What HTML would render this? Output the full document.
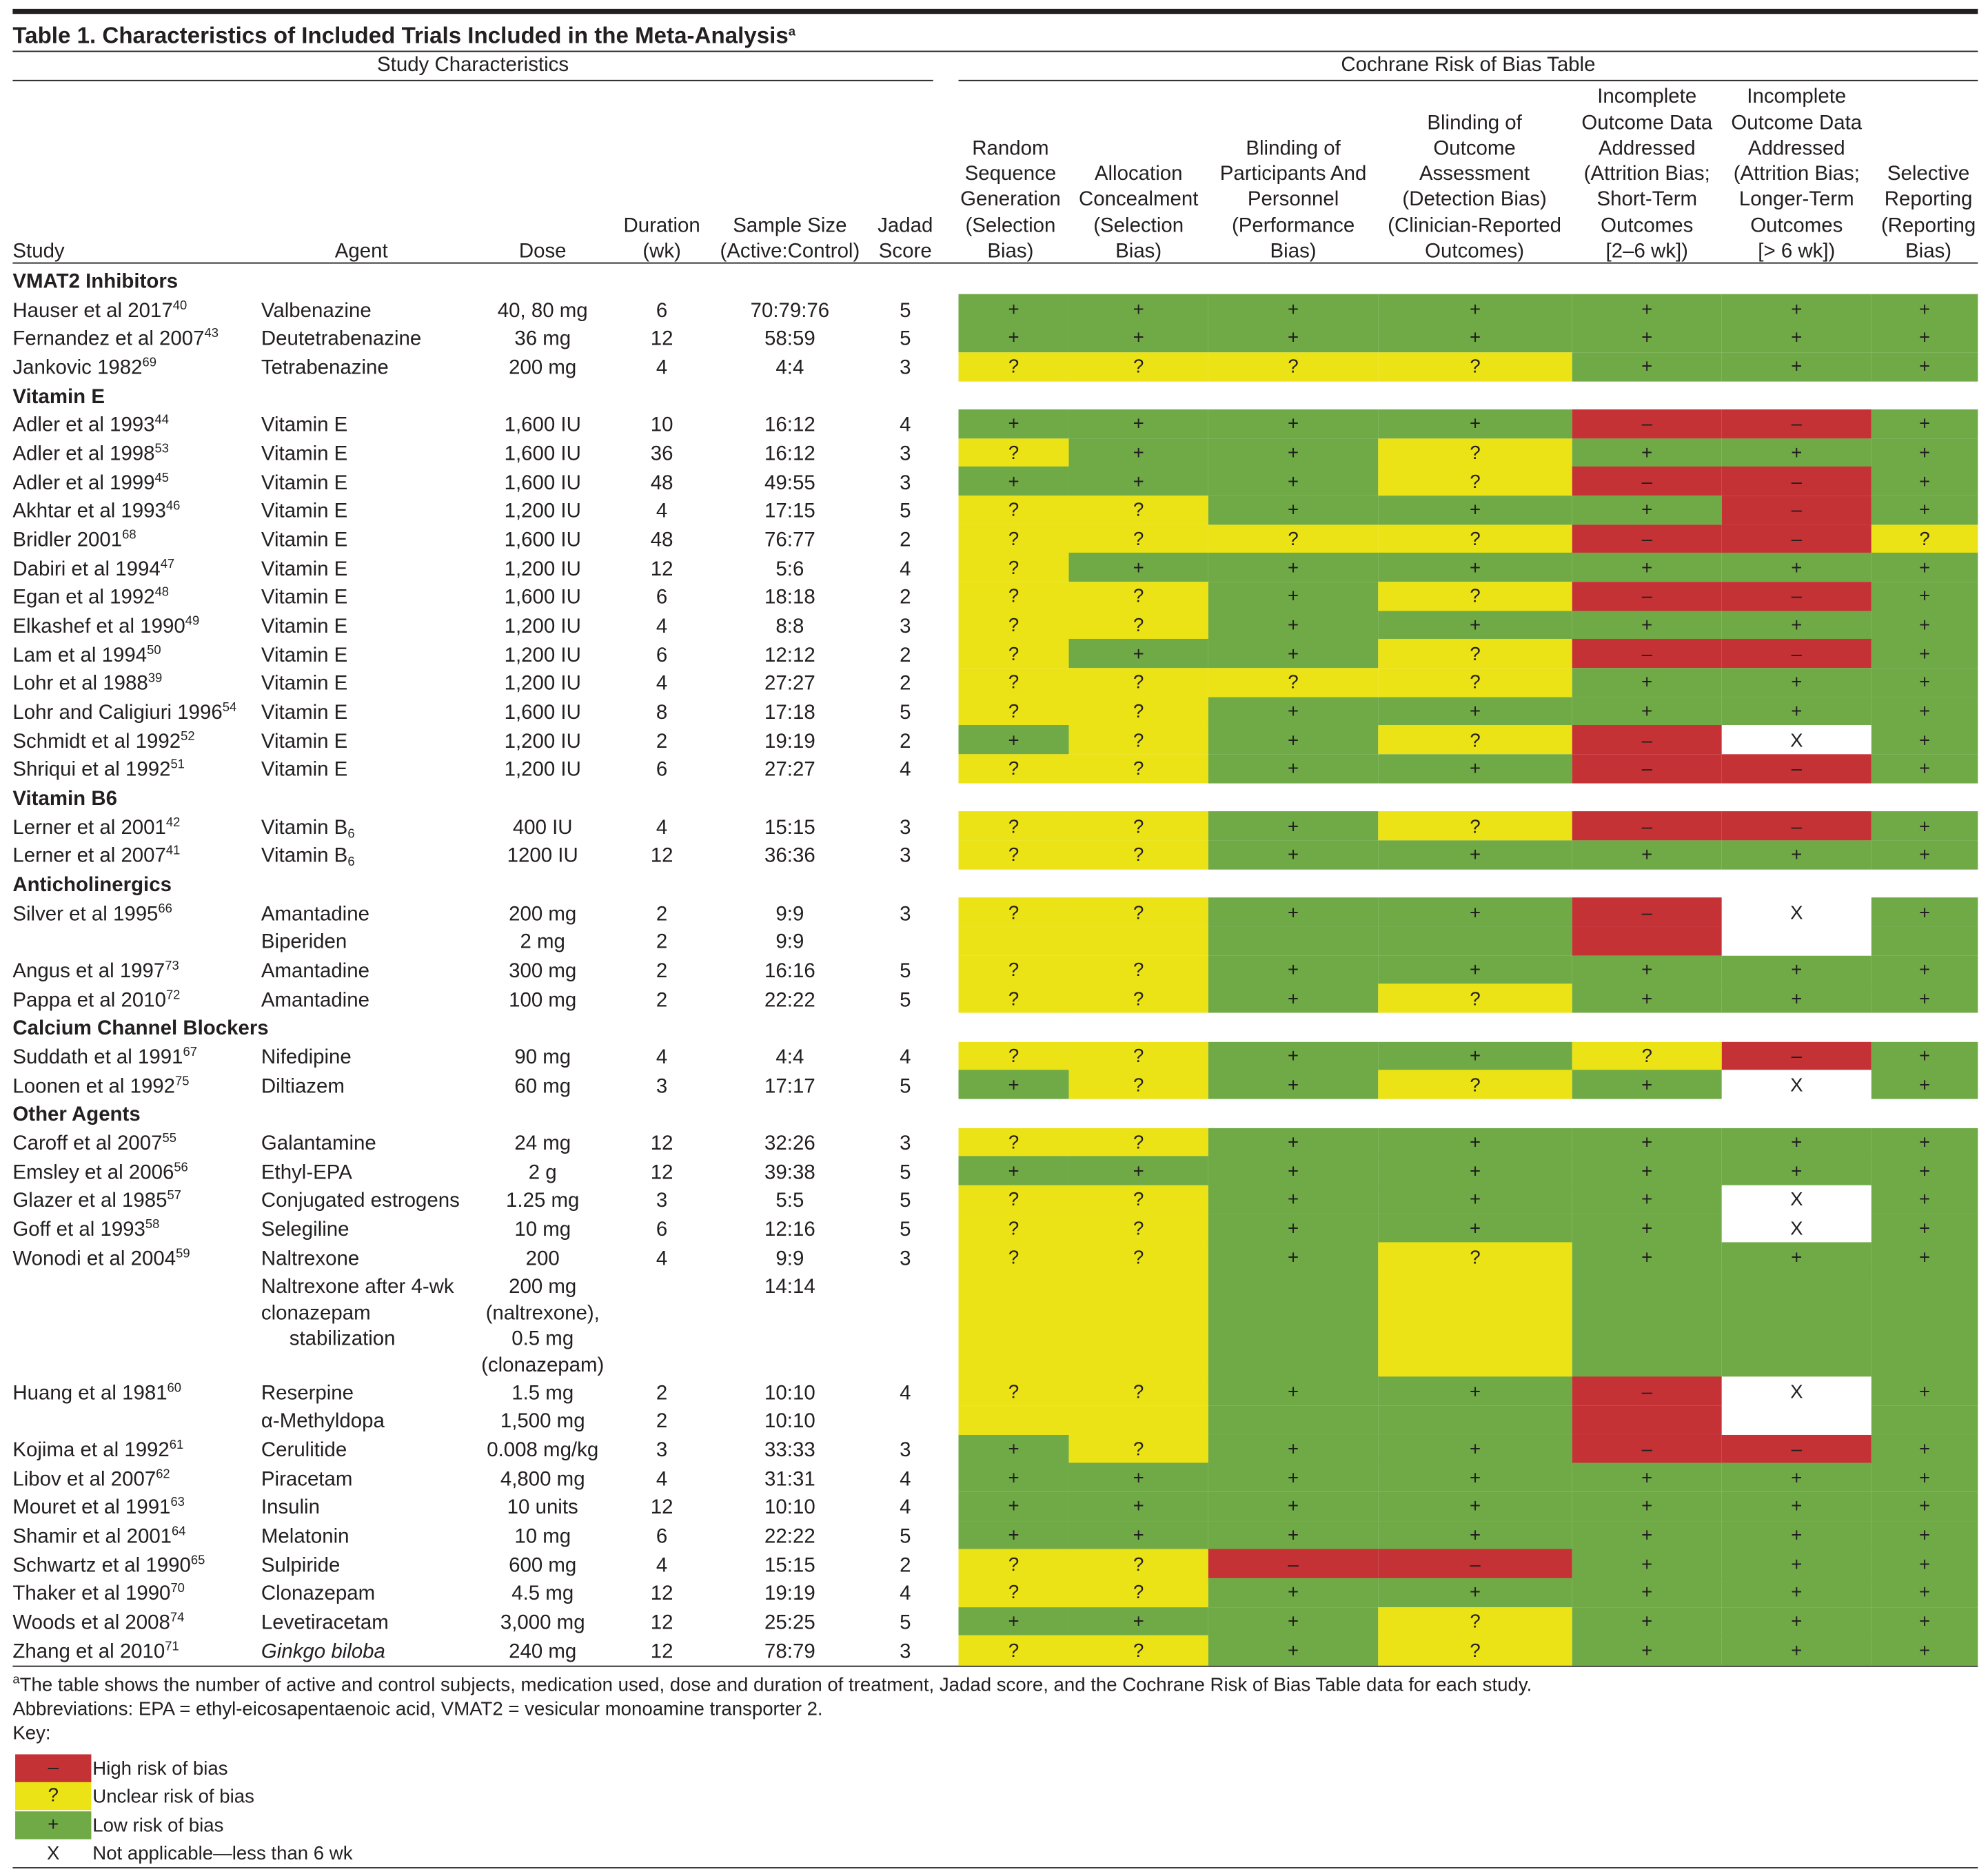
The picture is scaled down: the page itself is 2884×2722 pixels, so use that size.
<!DOCTYPE html>
<html><head><meta charset="utf-8">
<style>
html,body{margin:0;padding:0;background:#fff;}
body{width:2884px;height:2722px;overflow:hidden;}
#root{position:absolute;left:0;top:0;width:1568px;height:1480px;transform-origin:0 0;transform:scale(1.8393,1.8392);font-family:"Liberation Sans",Arial,sans-serif;font-size:16px;color:#231f20;}
.t{position:absolute;white-space:nowrap;line-height:20px;height:20px;}
.c{text-align:center;width:240px;}
.rule{position:absolute;background:#231f20;height:1px;}
.cell{position:absolute;}
.sym{position:absolute;text-align:center;line-height:20px;font-size:15px;}
sup{font-size:10px;vertical-align:6px;line-height:0;}
sub{font-size:10px;vertical-align:-3px;line-height:0;}
.b{font-weight:bold;}
</style></head>
<body>
<div id="root">
<div class="rule" style="left:10px;top:7px;width:1550px;height:3.5px"></div>
<div class="t b" style="left:10px;top:18px;font-size:18px">Table 1. Characteristics of Included Trials Included in the Meta-Analysis<sup>a</sup></div>
<div class="rule" style="left:10px;top:40px;width:1550px"></div>
<div class="t c" style="left:253px;top:42px;">Study Characteristics</div>
<div class="t c" style="left:1038px;top:42px;">Cochrane Risk of Bias Table</div>
<div class="rule" style="left:10px;top:63px;width:726px"></div>
<div class="rule" style="left:756px;top:63px;width:804px"></div>
<div class="rule" style="left:10px;top:207px;width:1550px"></div>
<div class="rule" style="left:10px;top:1314px;width:1550px"></div>
<div class="rule" style="left:10px;top:1473px;width:1550px"></div>
<div class="t" style="left:10px;top:1320px;font-size:15px"><sup>a</sup>The table shows the number of active and control subjects, medication used, dose and duration of treatment, Jadad score, and the Cochrane Risk of Bias Table data for each study.</div>
<div class="t" style="left:10px;top:1339px;font-size:15px">Abbreviations: EPA = ethyl-eicosapentaenoic acid, VMAT2 = vesicular monoamine transporter 2.</div>
<div class="t" style="left:10px;top:1358px;font-size:15px">Key:</div>
<div class="cell" style="left:12px;top:1384px;width:60px;height:22px;background:#c43236"><div class="sym" style="left:0;width:60px;top:1px">–</div></div>
<div class="t" style="left:73px;top:1386px;font-size:15px">High risk of bias</div>
<div class="cell" style="left:12px;top:1406px;width:60px;height:22px;background:#ebe316"><div class="sym" style="left:0;width:60px;top:1px">?</div></div>
<div class="t" style="left:73px;top:1408px;font-size:15px">Unclear risk of bias</div>
<div class="cell" style="left:12px;top:1429px;width:60px;height:22px;background:#70aa47"><div class="sym" style="left:0;width:60px;top:1px">+</div></div>
<div class="t" style="left:73px;top:1431px;font-size:15px">Low risk of bias</div>
<div class="sym" style="left:12px;top:1453px;width:60px">X</div>
<div class="t" style="left:73px;top:1453px;font-size:15px">Not applicable—less than 6 wk</div>
</div>
<script>
const root = document.getElementById('root');
const colX = [756,843,953,1087,1240,1358,1476,1560];
const headers = [
 [10,'l',['Study']],[285,'c',['Agent']],[428,'c',['Dose']],[522,'c',['Duration','(wk)']],
 [623,'c',['Sample Size','(Active:Control)']],[714,'c',['Jadad','Score']],
 [797,'c',['Random','Sequence','Generation','(Selection','Bias)']],
 [898,'c',['Allocation','Concealment','(Selection','Bias)']],
 [1020,'c',['Blinding of','Participants And','Personnel','(Performance','Bias)']],
 [1163,'c',['Blinding of','Outcome','Assessment','(Detection Bias)','(Clinician-Reported','Outcomes)']],
 [1299,'c',['Incomplete','Outcome Data','Addressed','(Attrition Bias;','Short-Term','Outcomes','[2–6 wk])']],
 [1417,'c',['Incomplete','Outcome Data','Addressed','(Attrition Bias;','Longer-Term','Outcomes','[> 6 wk])']],
 [1521,'c',['Selective','Reporting','(Reporting','Bias)']]
];
const rows = [
 ['h','VMAT2 Inhibitors'],
 ['Hauser et al 2017','40','Valbenazine','40, 80 mg','6','70:79:76','5','GGGGGGG'],
 ['Fernandez et al 2007','43','Deutetrabenazine','36 mg','12','58:59','5','GGGGGGG'],
 ['Jankovic 1982','69','Tetrabenazine','200 mg','4','4:4','3','YYYYGGG'],
 ['h','Vitamin E'],
 ['Adler et al 1993','44','Vitamin E','1,600 IU','10','16:12','4','GGGGRRG'],
 ['Adler et al 1998','53','Vitamin E','1,600 IU','36','16:12','3','YGGYGGG'],
 ['Adler et al 1999','45','Vitamin E','1,600 IU','48','49:55','3','GGGYRRG'],
 ['Akhtar et al 1993','46','Vitamin E','1,200 IU','4','17:15','5','YYGGGRG'],
 ['Bridler 2001','68','Vitamin E','1,600 IU','48','76:77','2','YYYYRRY'],
 ['Dabiri et al 1994','47','Vitamin E','1,200 IU','12','5:6','4','YGGGGGG'],
 ['Egan et al 1992','48','Vitamin E','1,600 IU','6','18:18','2','YYGYRRG'],
 ['Elkashef et al 1990','49','Vitamin E','1,200 IU','4','8:8','3','YYGGGGG'],
 ['Lam et al 1994','50','Vitamin E','1,200 IU','6','12:12','2','YGGYRRG'],
 ['Lohr et al 1988','39','Vitamin E','1,200 IU','4','27:27','2','YYYYGGG'],
 ['Lohr and Caligiuri 1996','54','Vitamin E','1,600 IU','8','17:18','5','YYGGGGG'],
 ['Schmidt et al 1992','52','Vitamin E','1,200 IU','2','19:19','2','GYGYRXG'],
 ['Shriqui et al 1992','51','Vitamin E','1,200 IU','6','27:27','4','YYGGRRG'],
 ['h','Vitamin B6'],
 ['Lerner et al 2001','42','Vitamin B<sub>6</sub>','400 IU','4','15:15','3','YYGYRRG'],
 ['Lerner et al 2007','41','Vitamin B<sub>6</sub>','1200 IU','12','36:36','3','YYGGGGG'],
 ['h','Anticholinergics'],
 ['Silver et al 1995','66','Amantadine','200 mg','2','9:9','3','YYGGRXG'],
 ['','','Biperiden','2 mg','2','9:9','','yyggrwg'],
 ['Angus et al 1997','73','Amantadine','300 mg','2','16:16','5','YYGGGGG'],
 ['Pappa et al 2010','72','Amantadine','100 mg','2','22:22','5','YYGYGGG'],
 ['h','Calcium Channel Blockers'],
 ['Suddath et al 1991','67','Nifedipine','90 mg','4','4:4','4','YYGGYRG'],
 ['Loonen et al 1992','75','Diltiazem','60 mg','3','17:17','5','GYGYGXG'],
 ['h','Other Agents'],
 ['Caroff et al 2007','55','Galantamine','24 mg','12','32:26','3','YYGGGGG'],
 ['Emsley et al 2006','56','Ethyl-EPA','2 g','12','39:38','5','GGGGGGG'],
 ['Glazer et al 1985','57','Conjugated estrogens','1.25 mg','3','5:5','5','YYGGGXG'],
 ['Goff et al 1993','58','Selegiline','10 mg','6','12:16','5','YYGGGXG'],
 ['Wonodi et al 2004','59','Naltrexone','200','4','9:9','3','YYGYGGG'],
 ['m','','Naltrexone after 4-wk','200 mg','','14:14','','yygyggg'],
 ['Huang et al 1981','60','Reserpine','1.5 mg','2','10:10','4','YYGGRXG'],
 ['','','α-Methyldopa','1,500 mg','2','10:10','','yyggrwg'],
 ['Kojima et al 1992','61','Cerulitide','0.008 mg/kg','3','33:33','3','GYGGRRG'],
 ['Libov et al 2007','62','Piracetam','4,800 mg','4','31:31','4','GGGGGGG'],
 ['Mouret et al 1991','63','Insulin','10 units','12','10:10','4','GGGGGGG'],
 ['Shamir et al 2001','64','Melatonin','10 mg','6','22:22','5','GGGGGGG'],
 ['Schwartz et al 1990','65','Sulpiride','600 mg','4','15:15','2','YYRRGGG'],
 ['Thaker et al 1990','70','Clonazepam','4.5 mg','12','19:19','4','YYGGGGG'],
 ['Woods et al 2008','74','Levetiracetam','3,000 mg','12','25:25','5','GGGYGGG'],
 ['Zhang et al 2010','71','<i>Ginkgo biloba</i>','240 mg','12','78:79','3','YYGYGGG']
];
const colors = {g:'#70aa47',y:'#ebe316',r:'#c43236',x:'#ffffff',w:'#ffffff'};
const syms = {G:'+',Y:'?',R:'–',X:'X'};
function txt(x, yc, html, align, name){
  const d = document.createElement('div');
  d.className = 't' + (align==='c' ? ' c' : '');
  d.style.left = (align==='c' ? x-120 : x) + 'px';
  d.style.top = (yc-8) + 'px';
  d.innerHTML = html;
  
  
  root.appendChild(d);
  return d;
}
headers.forEach(function(h, i){
  const n = h[2].length;
  h[2].forEach(function(line, k){
    txt(h[0], 197 - (n-1-k)*20.3, line, h[1], 'column-header-' + i + '-line-' + k);
  });
});
let y = 209.67;
const LH = 22.67;
rows.forEach(function(r, i){
  let h = LH;
  const yc = y + LH/2;
  if (r[0]==='h'){
    const d = txt(10, yc, r[1], 'l', 'group-heading');
    d.classList.add('b');
    y += h; return;
  }
  if (r[0]==='m'){
    h = 83.3;
    const agentLines = ['Naltrexone after 4-wk','clonazepam','&nbsp;&nbsp;&nbsp;&nbsp;&nbsp;stabilization'];
    agentLines.forEach(function(s,k){ txt(206, y+11 + k*20.5, s, 'l', 'agent-cell'); });
    const doseLines = ['200 mg','(naltrexone),','0.5 mg','(clonazepam)'];
    doseLines.forEach(function(s,k){ txt(428, y+11 + k*20.5, s, 'c', 'dose-cell'); });
    txt(623, y+11, r[5], 'c', 'sample-size-cell');
  } else {
    if (r[0]) txt(10, yc, r[0] + '<sup>' + r[1] + '</sup>', 'l', 'study-cell');
    txt(206, yc, r[2], 'l', 'agent-cell');
    txt(428, yc, r[3], 'c', 'dose-cell');
    if (r[4]) txt(522, yc, r[4], 'c', 'duration-cell');
    txt(623, yc, r[5], 'c', 'sample-size-cell');
    if (r[6]) txt(714, yc, r[6], 'c', 'jadad-cell');
  }
  const risk = r[7];
  for (let c=0;c<7;c++){
    const ch = risk[c];
    const cell = document.createElement('div');
    cell.className = 'cell';
    cell.style.left = colX[c] + 'px';
    cell.style.width = (colX[c+1]-colX[c]) + 'px';
    cell.style.top = y + 'px';
    cell.style.height = (h+0.4) + 'px';
    cell.style.background = colors[ch.toLowerCase()];
    
    
    if (syms[ch]){
      const s = document.createElement('div');
      s.className = 'sym';
      s.style.left = '0px';
      s.style.width = (colX[c+1]-colX[c]) + 'px';
      s.style.top = (LH/2 - 9) + 'px';
      s.textContent = syms[ch];
      
      
      cell.appendChild(s);
    }
    root.appendChild(cell);
  }
  y += h;
});
</script>
</body></html>
